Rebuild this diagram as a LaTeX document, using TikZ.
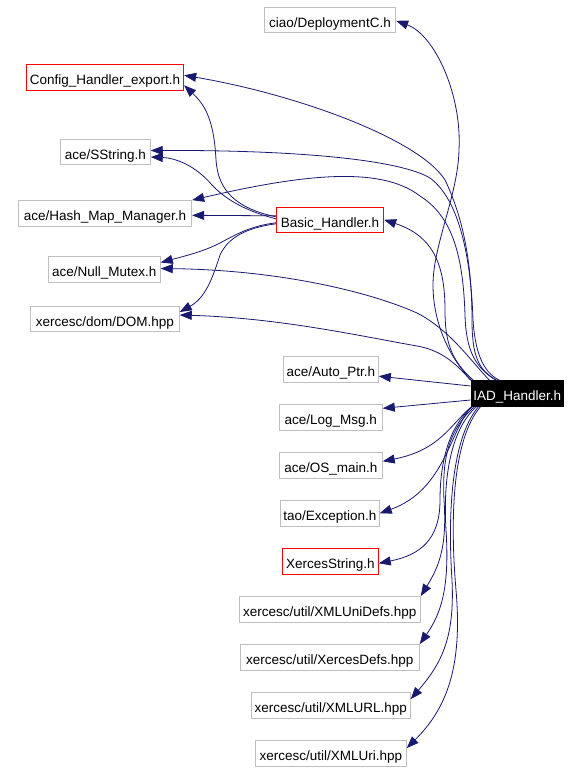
\documentclass[tikz,border=0pt]{standalone}
\usepackage{fontspec}
\setmainfont{Liberation Sans}
\usetikzlibrary{arrows.meta}
\definecolor{edgeblue}{HTML}{191970}
\definecolor{boxgray}{HTML}{BFBFBF}
\begin{document}
\begin{tikzpicture}[x=1pt,y=-1pt,
  filebox/.style={draw=boxgray, line width=0.9pt, minimum height=25.5pt, inner sep=0pt,
    text height=14.5pt, text depth=0pt,
    font=\fontsize{13.5}{15}\selectfont, text=black},
  redbox/.style={filebox, draw=red},
  mainbox/.style={filebox, draw=black, fill=black, text=white},
  dep/.style={draw=edgeblue, line width=0.8pt, -{Triangle[length=12pt,width=9pt]}}]
\useasboundingbox (0,0) rectangle (582,771);

\node[filebox, minimum width=131.4pt] (deploy) at (330,19.8) {ciao/DeploymentC.h};
\node[redbox, minimum width=157.4pt] (config) at (105,77.3) {Config\_Handler\_export.h};
\node[filebox, minimum width=90pt] (sstring) at (105.3,152) {ace/SString.h};
\node[filebox, minimum width=173.4pt] (hash) at (105,213.3) {ace/Hash\_Map\_Manager.h};
\node[redbox, minimum width=107.4pt] (basic) at (330,219.8) {Basic\_Handler.h};
\node[filebox, minimum width=112pt] (nullmutex) at (104.3,269.5) {ace/Null\_Mutex.h};
\node[filebox, minimum width=149pt] (dom) at (104.8,319) {xercesc/dom/DOM.hpp};
\node[filebox, minimum width=95pt] (autoptr) at (330.8,369.2) {ace/Auto\_Ptr.h};
\node[mainbox, minimum width=92.7pt] (iad) at (517.3,393.5) {IAD\_Handler.h};
\node[filebox, minimum width=103pt] (logmsg) at (330.8,417.3) {ace/Log\_Msg.h};
\node[filebox, minimum width=103pt] (osmain) at (330.8,465.3) {ace/OS\_main.h};
\node[filebox, minimum width=99pt] (exception) at (329.8,513.3) {tao/Exception.h};
\node[redbox, minimum width=96pt] (xstring) at (330.3,561.3) {XercesString.h};
\node[filebox, minimum width=181pt] (unidefs) at (329.8,609.3) {xercesc/util/XMLUniDefs.hpp};
\node[filebox, minimum width=179pt] (xdefs) at (329.8,657.3) {xercesc/util/XercesDefs.hpp};
\node[filebox, minimum width=159pt] (xmlurl) at (330.8,705.3) {xercesc/util/XMLURL.hpp};
\node[filebox, minimum width=151pt] (xmluri) at (330.8,753.3) {xercesc/util/XMLUri.hpp};

% IAD_Handler.h dependencies (upwards)
\draw[dep] ([xshift=1pt]iad.north west) .. controls (447,355) and (433,320) .. (433,285)
  .. controls (433,245) and (458,195) .. (459,150)
  .. controls (462,95) and (435,35) .. ([yshift=-1pt]deploy.east);
\draw[dep] ([xshift=3pt]iad.north west) .. controls (450,360) and (445,340) .. (445,310)
  .. controls (445,260) and (430,235) .. (basic.east);
\draw[dep] (iad.north west) .. controls (455,362) and (440,350) .. (417,346)
  .. controls (360,336) and (280,318) .. ([yshift=4pt]dom.east);
\draw[dep] ([xshift=19pt]iad.north west) .. controls (470,360) and (450,330) .. (417,313)
  .. controls (370,292) and (280,270) .. ([yshift=1pt]nullmutex.east);
\draw[dep] ([xshift=26pt]iad.north west) .. controls (478,370) and (472,355) .. (472,320)
  .. controls (472,260) and (462,215) .. (445,180)
  .. controls (420,140) and (300,95) .. ([yshift=2pt]config.east);
\draw[dep] ([xshift=29pt]iad.north west) .. controls (482,372) and (475,350) .. (473,320)
  .. controls (471,260) and (460,200) .. (430,178)
  .. controls (400,160) and (300,150) .. ([yshift=1.5pt]sstring.east);
\draw[dep] ([xshift=26pt]iad.north west) .. controls (475,368) and (466,350) .. (465,315)
  .. controls (463,250) and (450,215) .. (420,196)
  .. controls (380,165) and (300,175) .. (hash.north east);
% IAD_Handler.h dependencies (left / downwards)
\draw[dep] ([yshift=7.5pt]iad.west) -- ([yshift=-7pt]autoptr.east);
\draw[dep] ([yshift=-6.5pt]iad.west) -- ([yshift=9pt]logmsg.east);
\draw[dep] ([xshift=1pt]iad.south west) .. controls (450,425) and (440,450) .. ([yshift=4pt]osmain.east);
\draw[dep] ([xshift=1pt]iad.south west) .. controls (450,430) and (445,490) .. (exception.east);
\draw[dep] ([xshift=2pt]iad.south west) .. controls (450,425) and (440,460) .. (440,500)
  .. controls (440,540) and (420,555) .. ([yshift=-2pt]xstring.east);
\draw[dep] ([xshift=4pt]iad.south west) .. controls (448,430) and (442,460) .. (444,500)
  .. controls (447,545) and (440,565) .. (unidefs.north east);
\draw[dep] ([xshift=6pt]iad.south west) .. controls (450,430) and (443,480) .. (446,530)
  .. controls (450,590) and (440,615) .. (xdefs.north east);
\draw[dep] ([xshift=8pt]iad.south west) .. controls (450,440) and (448,520) .. (452,580)
  .. controls (455,640) and (440,665) .. ([yshift=-7pt]xmlurl.north east);
\draw[dep] ([xshift=10pt]iad.south west) .. controls (452,440) and (450,520) .. (456,590)
  .. controls (463,670) and (445,710) .. ([yshift=-8pt]xmluri.north east);

% Basic_Handler.h dependencies
\draw[dep] ([yshift=3pt]basic.west) .. controls (235,208) and (218,190) .. (216,160)
  .. controls (214,120) and (205,105) .. ([yshift=-8pt]config.east);
\draw[dep] ([yshift=1pt]basic.west) .. controls (250,212) and (228,202) .. (212,185)
  .. controls (195,165) and (175,158) .. ([yshift=-5pt]sstring.east);
\draw[dep] ([yshift=4pt]basic.west) -- ([yshift=-2pt]hash.east);
\draw[dep] ([yshift=-3pt]basic.west) .. controls (250,226) and (235,235) .. (220,243)
  .. controls (205,251) and (185,256) .. ([yshift=7pt]nullmutex.east);
\draw[dep] ([yshift=-4pt]basic.west) .. controls (245,228) and (228,238) .. (220,255)
  .. controls (212,280) and (205,298) .. ([yshift=7pt]dom.east);
\end{tikzpicture}
\end{document}
